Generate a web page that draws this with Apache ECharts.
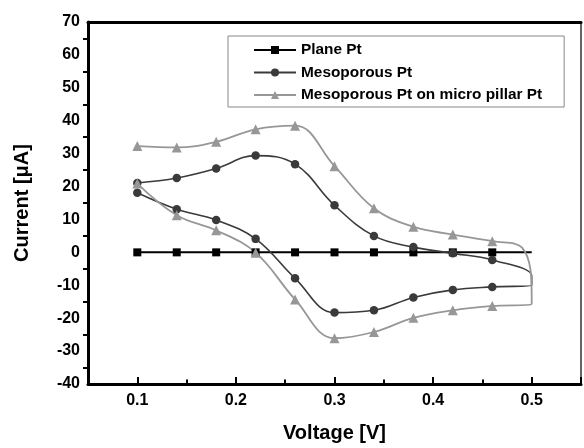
<!DOCTYPE html>
<html>
<head>
<meta charset="utf-8">
<script src="https://cdn.jsdelivr.net/npm/echarts@6/dist/echarts.min.js"></script>
<style>
  html, body { margin: 0; padding: 0; background: #fff; }
  #chart { width: 584px; height: 448px; }
</style>
</head>
<body>
<div id="chart"></div>
<script>
// values (V, uA); sweep goes out to 0.5 V and back
const planeX = [0.1, 0.14, 0.18, 0.22, 0.26, 0.30, 0.34, 0.38, 0.42, 0.46, 0.5];
const planeY = [0, 0, 0, 0, 0, 0, 0, 0, 0, 0, 0];

const mesoX = [0.1, 0.14, 0.18, 0.22, 0.26, 0.30, 0.34, 0.38, 0.42, 0.46, 0.5,
  0.5, 0.46, 0.42, 0.38, 0.34, 0.30, 0.26, 0.22, 0.18, 0.14, 0.1];
const mesoY = [21.1, 22.6, 25.5, 29.4, 26.8, 14.3, 5.0, 1.6, -0.3, -2.3, -7.2,
  -10.0, -10.5, -11.4, -13.7, -17.6, -18.3, -7.9, 4.1, 9.8, 13.1, 18.1];

const pillarX = [0.1, 0.14, 0.18, 0.22, 0.26, 0.30, 0.34, 0.38, 0.42, 0.46, 0.49, 0.5,
  0.5, 0.46, 0.42, 0.38, 0.34, 0.30, 0.26, 0.22, 0.18, 0.14, 0.1];
const pillarY = [32.3, 31.9, 33.6, 37.4, 38.5, 26.2, 13.4, 7.8, 5.4, 3.4, 1.5, -14.3,
  -15.6, -16.3, -17.6, -19.9, -24.2, -26.1, -14.3, -0.1, 6.7, 11.3, 20.9];

const seriesNames = ["Plane Pt", "Mesoporous Pt", "Mesoporous Pt on micro pillar Pt"];

const FONT = "'Liberation Sans', Arial, sans-serif";

// no marker on the turning points at the vertex end
function toData(xs, ys) {
  return xs.map((x, i) => {
    if (x > 0.47) return { value: [x, ys[i]], symbol: "none" };
    return [x, ys[i]];
  });
}

const chart = echarts.init(document.getElementById("chart"), null, { renderer: "canvas" });

const xRange = { min: 0.05, max: 0.55 };

const option = {
  animation: false,
  backgroundColor: "#fff",
  grid: { left: 88, top: 22, right: 3, bottom: 61 },
  legend: {
    orient: "vertical",
    left: 228,
    top: 36,
    padding: [6.5, 22, 4.5, 25],
    itemGap: 7.5,
    itemWidth: 42,
    itemHeight: 10,
    borderColor: "#888",
    borderWidth: 1,
    textStyle: { fontFamily: FONT, fontSize: 15.4, fontWeight: "bold", color: "#000" },
    data: seriesNames,
  },
  xAxis: [
    {
      type: "value",
      position: "bottom",
      ...xRange,
      interval: 0.05,
      name: "Voltage [V]",
      nameLocation: "middle",
      nameGap: 39,
      nameTextStyle: { fontFamily: FONT, fontSize: 20, fontWeight: "bold", color: "#000" },
      axisLine: { onZero: false, lineStyle: { color: "#000", width: 3 } },
      axisTick: { inside: true, length: 4.5, lineStyle: { color: "#000", width: 2 } },
      splitLine: { show: false },
      axisLabel: {
        margin: 9,
        fontFamily: FONT,
        fontSize: 16,
        fontWeight: "bold",
        color: "#000",
        showMinLabel: false,
        showMaxLabel: false,
        formatter: (v) => (Math.abs(v * 10 - Math.round(v * 10)) < 1e-6 ? v.toFixed(1) : ""),
      },
    },
    {
      // longer ticks at the labelled positions
      type: "value",
      position: "bottom",
      ...xRange,
      axisLine: { show: false, onZero: false },
      axisTick: { inside: true, length: 7, lineStyle: { color: "#000", width: 2 } },
      axisLabel: { show: false },
      splitLine: { show: false },
    },
    {
      type: "value",
      position: "top",
      ...xRange,
      axisLine: { onZero: false, lineStyle: { color: "#000", width: 3 } },
      axisTick: { show: false },
      axisLabel: { show: false },
      splitLine: { show: false },
    },
  ],
  yAxis: [
    {
      type: "value",
      position: "left",
      min: -40,
      max: 70,
      interval: 10,
      name: "Current [\u03bcA]",
      nameLocation: "middle",
      nameGap: 56,
      nameTextStyle: { fontFamily: FONT, fontSize: 20, fontWeight: "bold", color: "#000" },
      axisLine: { onZero: false, lineStyle: { color: "#000", width: 3 } },
      axisTick: { show: false },
      minorTick: { show: true, splitNumber: 2, length: 5, lineStyle: { color: "#000", width: 2 } },
      splitLine: { show: false },
      axisLabel: { margin: 8, fontFamily: FONT, fontSize: 16, fontWeight: "bold", color: "#000" },
    },
    {
      type: "value",
      position: "right",
      min: -40,
      max: 70,
      axisLine: { onZero: false, lineStyle: { color: "#333", width: 1.5 } },
      axisTick: { show: false },
      axisLabel: { show: false },
      splitLine: { show: false },
    },
  ],
  series: [
    {
      name: seriesNames[0],
      type: "line",
      data: toData(planeX, planeY),
      symbol: "rect",
      symbolSize: 8,
      color: "#000",
      lineStyle: { color: "#000", width: 2 },
      itemStyle: { color: "#000" },
    },
    {
      name: seriesNames[1],
      type: "line",
      data: toData(mesoX, mesoY),
      smooth: 0.4,
      symbol: "circle",
      symbolSize: 8.5,
      color: "#3a3a3a",
      lineStyle: { color: "#3a3a3a", width: 1.6 },
      itemStyle: { color: "#3a3a3a" },
    },
    {
      name: seriesNames[2],
      type: "line",
      data: toData(pillarX, pillarY),
      smooth: 0.4,
      symbol: "triangle",
      symbolSize: 10,
      color: "#979797",
      lineStyle: { color: "#979797", width: 1.8 },
      itemStyle: { color: "#979797" },
    },
  ],
};

chart.setOption(option);
</script>
</body>
</html>
